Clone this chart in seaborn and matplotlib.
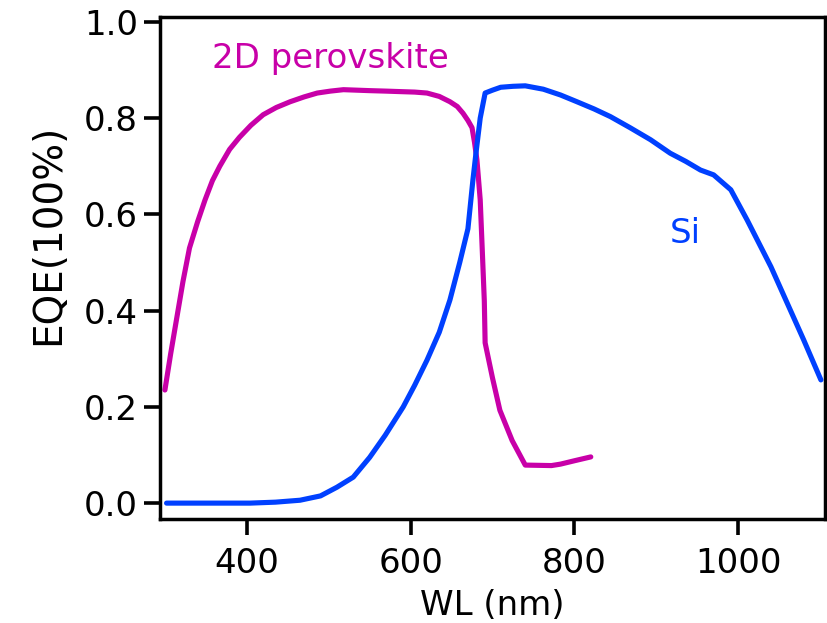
import matplotlib
matplotlib.use("Agg")
import matplotlib.pyplot as plt
import seaborn as sns
import pandas as pd

# Data
perov_wl = [300, 307, 314, 322, 330, 340, 349, 358, 367, 379, 391, 405, 420, 436, 453,
            470, 486, 502, 518, 534, 550, 570, 587, 605, 620, 635, 648, 657, 664, 670,
            675, 678, 681, 685, 688, 690, 691, 700, 709, 724, 740, 772, 783, 800, 820]
perov_eqe = [0.235, 0.31, 0.38, 0.46, 0.53, 0.585, 0.63, 0.67, 0.70, 0.735, 0.76, 0.785,
             0.807, 0.822, 0.834, 0.844, 0.852, 0.856, 0.859, 0.858, 0.857, 0.856, 0.855,
             0.854, 0.852, 0.845, 0.834, 0.824, 0.81, 0.795, 0.78, 0.75, 0.713, 0.63,
             0.505, 0.42, 0.333, 0.26, 0.193, 0.13, 0.079, 0.078, 0.081, 0.088, 0.096]

si_wl = [302, 350, 404, 435, 465, 490, 510, 530, 550, 569, 591, 605, 620, 635, 648, 660,
         670, 676, 680, 685, 691, 700, 710, 725, 740, 762, 783, 803, 824, 844, 868, 893,
         917, 936, 954, 970, 991, 1011, 1040, 1060, 1080, 1101]
si_eqe = [0.0, 0.0, 0.0, 0.002, 0.006, 0.015, 0.033, 0.054, 0.095, 0.141, 0.200, 0.245,
          0.297, 0.355, 0.422, 0.50, 0.57, 0.67, 0.73, 0.80, 0.852, 0.858, 0.864, 0.866,
          0.867, 0.860, 0.848, 0.834, 0.819, 0.803, 0.780, 0.755, 0.727, 0.710, 0.692,
          0.682, 0.651, 0.588, 0.491, 0.415, 0.339, 0.256]

x_ticks = [400, 600, 800, 1000]
y_ticks = [0.0, 0.2, 0.4, 0.6, 0.8, 1.0]

label_perov = "2D perovskite"
label_si = "Si"
x_label = "WL (nm)"
y_label = "EQE(100%)"

MAGENTA = "#C800A8"
BLUE = "#0040FF"

sns.set_theme(style="ticks")
plt.rcParams["font.family"] = ["DejaVu Sans"]

fig = plt.figure(figsize=(8.28, 6.23), dpi=100)
ax = fig.add_axes([160 / 828, 1 - 519 / 623, 665 / 828, 502 / 623])

df_p = pd.DataFrame({"wl": perov_wl, "eqe": perov_eqe})
df_s = pd.DataFrame({"wl": si_wl, "eqe": si_eqe})

sns.lineplot(data=df_p, x="wl", y="eqe", ax=ax, color=MAGENTA, linewidth=3.7,
             estimator=None, sort=False)
sns.lineplot(data=df_s, x="wl", y="eqe", ax=ax, color=BLUE, linewidth=3.7,
             estimator=None, sort=False)

ax.set_xlim(294, 1106)
ax.set_ylim(-0.033, 1.010)
ax.set_xticks(x_ticks)
ax.set_yticks(y_ticks)
ax.set_xticklabels([str(v) for v in x_ticks])
ax.set_yticklabels([f"{v:.1f}" for v in y_ticks])

for s in ax.spines.values():
    s.set_linewidth(2.5)
    s.set_color("black")
    s.set_visible(True)

ax.tick_params(axis="both", which="major", direction="out", length=11.5, width=2.6,
               color="black", labelsize=24.5, labelcolor="black")
ax.tick_params(axis="x", pad=9)
ax.tick_params(axis="y", pad=4.5)

ax.set_xlabel(x_label, fontsize=24.5, color="black")
ax.set_ylabel(y_label, fontsize=28, color="black")
ax.xaxis.set_label_coords(0.5, -0.139)
ax.xaxis.label.set_verticalalignment("top")
ax.yaxis.set_label_coords(-0.14, 0.566)

ax.text(357, 0.904, label_perov, color=MAGENTA, fontsize=24.5, ha="left", va="baseline")
ax.text(916, 0.541, label_si, color=BLUE, fontsize=24.5, ha="left", va="baseline")

ax.set_facecolor("white")
fig.patch.set_facecolor("white")
fig.savefig("out.png", dpi=100, facecolor="white")
